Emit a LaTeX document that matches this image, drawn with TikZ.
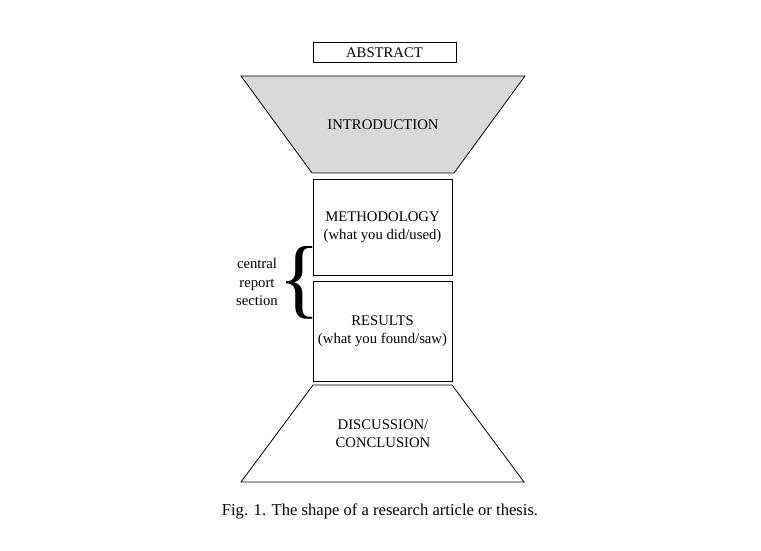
\documentclass[tikz,border=0pt]{standalone}
\usepackage{fontspec}
\setmainfont{Liberation Serif}
\usepackage{tikz}
\usetikzlibrary{positioning}

\tikzset{
	part/.style={draw,line width=.8pt,minimum width=139pt,inner sep=0pt,align=center},
	label/.style={align=center,inner sep=0pt}
}

\begin{document}
\begin{tikzpicture}[x=1pt,y=-1pt,line width=.8pt,font=\fontsize{14.7}{18.2}\selectfont]
	\useasboundingbox (0,0) rectangle (761,551);
	\node[part,minimum width=143pt,minimum height=20pt] (abstract) at (384.5,52.5) {ABSTRACT};
	\draw[fill=black!15] (241,76) -- (525,76) -- (454,173) -- (312,173) -- cycle;
	\node[label] (intro) at (383,124.5) {INTRODUCTION};
	\node[part,minimum height=96pt] (method) at (382.5,227) {METHODOLOGY\\(what you did/used)};
	\node[part,minimum height=100pt] (results) at (382.5,331) {RESULTS\\(what you found/saw)};
	\draw (313,385) -- (452,385) -- (524,482) -- (241,482) -- cycle;
	\node[label] (discussion) at (383,433.5) {DISCUSSION/\\CONCLUSION};
	%% brace for the middle part
	\node[inner sep=0pt,font=\fontsize{88}{88}\selectfont] (brace) at (300,283) {\{};
	\node[label] (central) at (257,282) {central\\report\\section};
	\node[label,font=\fontsize{16.6}{20}\selectfont] (caption) at (380,511) {Fig. 1. The shape of a research article or thesis.};
\end{tikzpicture}
\end{document}
